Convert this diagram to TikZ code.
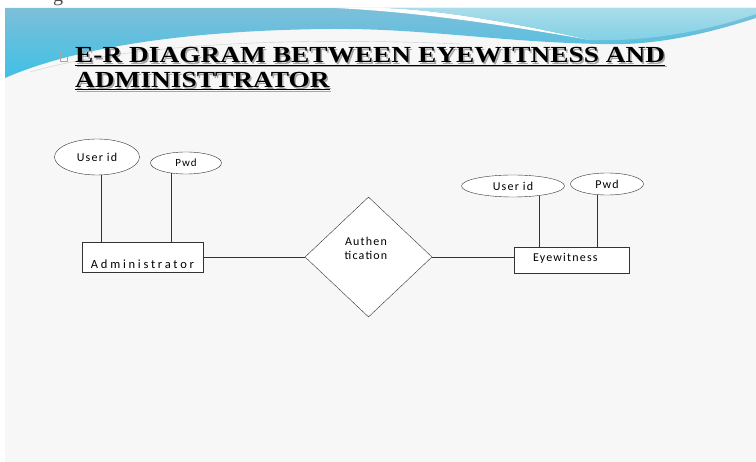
\documentclass[tikz,border=0pt]{standalone}
\usepackage{fontspec}
\setmainfont{Liberation Serif}
\newfontfamily\titlefont[FakeStretch=1.19]{Liberation Serif}
\newfontfamily\erfont[LetterSpace=10]{Carlito}
\newfontfamily\admfont[LetterSpace=22]{Carlito}
\usetikzlibrary{shapes.geometric}

\definecolor{slidebg}{HTML}{F7F7F7}
\definecolor{wavetop}{HTML}{7DBFD9}
\definecolor{wavecyan}{HTML}{3FC0E5}
\definecolor{wavelight}{HTML}{AADCE9}
\definecolor{wavemid}{HTML}{7FD0E6}
\definecolor{erline}{HTML}{333333}

\newcommand{\ertitle}{\underline{E-R DIAGRAM BETWEEN EYEWITNESS AND}\\\underline{ADMINISTTRATOR}}

\tikzset{
  attr/.style={draw=erline, ellipse, fill=white, inner sep=0pt, font=\erfont\fontsize{12}{14}\selectfont},
  entity/.style={draw=erline, rectangle, fill=white, inner ysep=0pt},
  relship/.style={draw=erline, diamond, fill=white, inner sep=0pt},
  link/.style={erline, line width=0.7pt},
  titletxt/.style={anchor=base west, align=left, inner sep=0pt, font=\titlefont\bfseries\fontsize{23}{25}\selectfont}
}

\begin{document}
\begin{tikzpicture}[x=1pt,y=1pt,yscale=-1,xscale=1]
\useasboundingbox (0,0) rectangle (756,462);

%Slide background
\fill[slidebg] (5,8) rectangle (756,462);
%Wave: blue band
\shade[top color=wavetop, bottom color=wavecyan] (5,8) -- (756,8) -- (756,18) .. controls (700,36) and (650,46) .. (600,44) .. controls (500,42) and (420,28) .. (330,29) .. controls (200,30) and (80,45) .. (5,78) -- cycle;
%Wave: white swoosh
\fill[white] (335,8) .. controls (420,12) and (510,26) .. (590,40) .. controls (510,22) and (440,10) .. (385,8) -- cycle;
%Wave: light part
\shade[top color=wavelight, bottom color=wavemid] (385,8) .. controls (440,10) and (510,22) .. (590,40) .. controls (650,42) and (710,30) .. (756,14) -- (756,8) -- cycle;
%Wave: thin line
\draw[gray!40, line width=0.4pt] (30,72) .. controls (120,46) and (280,36) .. (460,44);

% Text Node: cut caption
\node[anchor=base west, inner sep=0pt, font=\fontsize{20}{20}\selectfont, text=black!70] (capg) at (53,2) {g};

%Shape: bullet
\draw[gray!70, line width=0.5pt] (60,51) rectangle (67,61);
% Text Node: title
\node[titletxt, text=black!35] (titleshadow) at (76.5,89.5) {\ertitle};
\node[titletxt] (title) at (75,88) {\ertitle};

%Shape: Rectangle [Administrator]
\node[entity, minimum width=121pt, text height=27pt, text depth=3pt, font=\admfont\fontsize{12.5}{14}\selectfont] (adm) at (142.5,257) {Administrator};
%Shape: Rectangle [Eyewitness]
\node[entity, text width=77pt, inner xsep=19pt, align=left, text height=15pt, text depth=11pt, font=\erfont\fontsize{12}{14}\selectfont] (eye) at (571.5,260) {Eyewitness};
%Shape: Diamond [Authentication]
\node[relship, minimum width=127pt, minimum height=120pt] (auth) at (368.5,257) {};
\node[font=\erfont\fontsize{12}{14}\selectfont, align=center, inner sep=0pt] (authtxt) at (366,248) {Authen\\tication};

%Shape: Ellipse [attributes]
\node[attr, minimum width=85pt, minimum height=36pt] (uidA) at (97,157) {User id};
\node[attr, minimum width=71pt, minimum height=22pt, font=\erfont\fontsize{11}{13}\selectfont] (pwdA) at (186,163) {Pwd};
\node[attr, minimum width=103pt, minimum height=22pt] (uidB) at (513,186) {User id};
\node[attr, minimum width=73pt, minimum height=22pt] (pwdB) at (607,184) {Pwd};

%Straight Lines
\draw[link] ([xshift=4pt]uidA.south) -- ([xshift=4pt]uidA.south |- adm.north);
\draw[link] (pwdA.214) -- (pwdA.214 |- adm.north);
\draw[link] (uidB.-20) -- (uidB.-20 |- eye.north);
\draw[link] (pwdB.227) -- (pwdB.227 |- eye.north);
\draw[link] (adm.east) -- (auth.west);
\draw[link] (auth.east) -- (auth.east -| eye.west);

\end{tikzpicture}
\end{document}
